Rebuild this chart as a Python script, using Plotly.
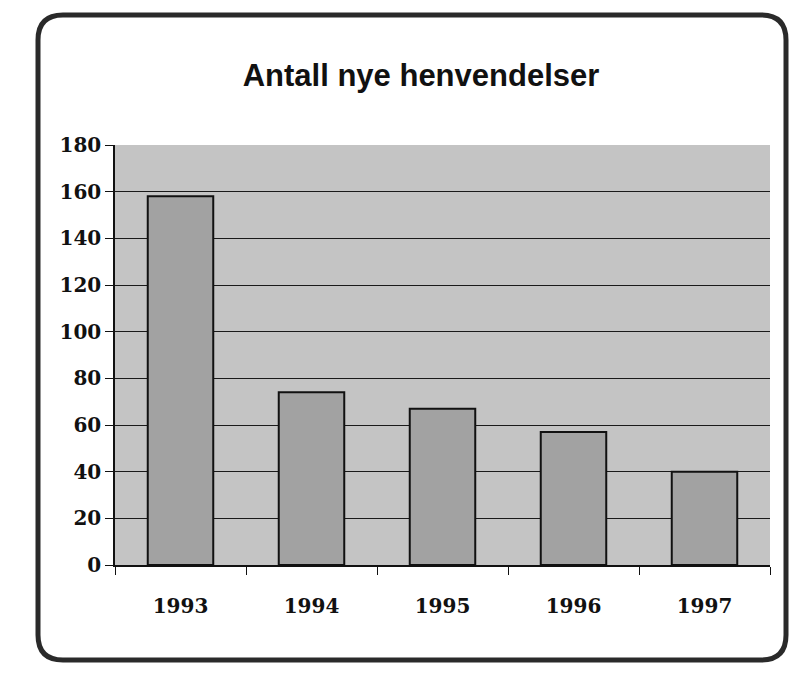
import plotly.graph_objects as go

# Data
years = ["1993", "1994", "1995", "1996", "1997"]
values = [158, 74, 67, 57, 40]
title_text = "Antall nye henvendelser"
y_ticks = [0, 20, 40, 60, 80, 100, 120, 140, 160, 180]

OFF = 8  # default body margin of the html page
FW, FH = 798 - 2 * OFF, 681 - 2 * OFF

fig = go.Figure()
fig.add_trace(go.Bar(
    x=years, y=values, width=0.5,
    marker=dict(color="#a2a2a2", line=dict(color="#111111", width=2)),
))

# plot area geometry (page px)
L, R, T, B = 115, 770, 145, 565
W, H = R - L, B - T
def px_to_paper(px, py):
    return (px - L) / W, (B - py) / H

x0, y1 = px_to_paper(38, 15)
x1, y0 = px_to_paper(786, 660)
rx, ry = 25 / W, 25 / H
path = (f"M {x0+rx},{y1} L {x1-rx},{y1} Q {x1},{y1} {x1},{y1-ry} "
        f"L {x1},{y0+ry} Q {x1},{y0} {x1-rx},{y0} L {x0+rx},{y0} "
        f"Q {x0},{y0} {x0},{y0+ry} L {x0},{y1-ry} Q {x0},{y1} {x0+rx},{y1} Z")

fig.update_layout(
    width=FW, height=FH,
    margin=dict(l=L - OFF, r=FW - (R - OFF), t=T - OFF, b=FH - (B - OFF)),
    paper_bgcolor="white",
    plot_bgcolor="#c4c4c4",
    showlegend=False,
    title=dict(text=f"<b>{title_text}</b>", x=(421 - OFF) / FW, y=1 - (75 - OFF) / FH,
               xanchor="center", yanchor="middle",
               font=dict(family="Liberation Sans", size=31, color="#111111")),
    shapes=[dict(type="path", path=path, xref="paper", yref="paper",
                 line=dict(color="#2a2a2a", width=5), layer="below")],
    font=dict(family="DejaVu Serif", size=20, color="#111111"),
)
fig.update_xaxes(
    showline=True, linecolor="#111111", linewidth=1.5,
    ticks="outside", tickson="boundaries", ticklen=8, tickcolor="#111111",
    showgrid=False, ticklabelstandoff=22,
    tickfont=dict(family="DejaVu Serif", size=20, weight="bold"),
)
fig.update_yaxes(
    range=[0, 180], tickvals=y_ticks, showline=True, linecolor="#111111", linewidth=1.5,
    ticks="outside", ticklen=8, tickcolor="#111111",
    showgrid=True, gridcolor="#1a1a1a", gridwidth=1.2, zeroline=False,
    tickfont=dict(family="DejaVu Serif", size=20, weight="bold"),
)

fig.write_html("out.html")
